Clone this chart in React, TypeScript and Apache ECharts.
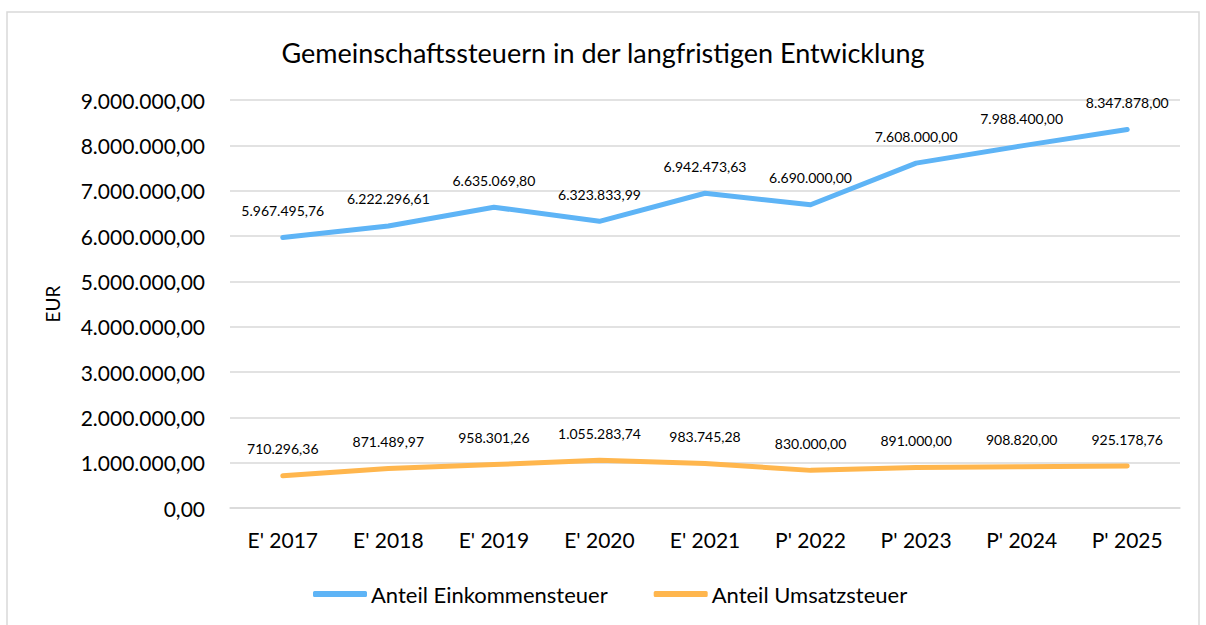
import React, { useEffect, useRef } from "react";
import * as echarts from "echarts";

const categories = ["E' 2017", "E' 2018", "E' 2019", "E' 2020", "E' 2021", "P' 2022", "P' 2023", "P' 2024", "P' 2025"];
const einkommen = [5967495.76, 6222296.61, 6635069.8, 6323833.99, 6942473.63, 6690000.0, 7608000.0, 7988400.0, 8347878.0];
const umsatz = [710296.36, 871489.97, 958301.26, 1055283.74, 983745.28, 830000.0, 891000.0, 908820.0, 925178.76];
const seriesNames = ["Anteil Einkommensteuer", "Anteil Umsatzsteuer"];
const titleText = "Gemeinschaftssteuern in der langfristigen Entwicklung";
const yAxisName = "EUR";

function de(v: number): string {
  const fixed = v.toFixed(2);
  const [i, d] = fixed.split(".");
  return i.replace(/\B(?=(\d{3})+(?!\d))/g, ".") + "," + d;
}

const FONT = "Lato";
const BLUE = "#5EB4F6";
const ORANGE = "#FFB64D";

export default function App() {
  const ref = useRef<HTMLDivElement>(null);
  useEffect(() => {
    if (!ref.current) return;
    const chart = echarts.init(ref.current, null, { renderer: "svg" });
    const labelCfg = {
      show: true,
      position: "top",
      distance: 20,
      fontFamily: FONT,
      fontSize: 14,
      color: "#000",
      formatter: (p: any) => de(p.value),
    };
    chart.setOption({
      animation: false,
      backgroundColor: "#fff",
      textStyle: { fontFamily: FONT },
      graphic: [
        {
          type: "rect",
          shape: { x: 7, y: 12, width: 1192, height: 640 },
          style: { fill: "none", stroke: "#d9d9d9", lineWidth: 1.5 },
          silent: true,
        },
      ],
      title: {
        text: titleText,
        left: "center",
        top: 34,
        textStyle: { fontFamily: FONT, fontSize: 27, fontWeight: "normal", color: "#000" },
      },
      legend: {
        left: 308,
        top: 578,
        itemWidth: 54,
        itemHeight: 6,
        itemGap: 46,
        icon: "roundRect",
        textStyle: { fontFamily: FONT, fontSize: 22, color: "#000", padding: [0, 0, 0, -1] },
        data: [
          { name: seriesNames[0], itemStyle: { color: BLUE } },
          { name: seriesNames[1], itemStyle: { color: ORANGE } },
        ],
      },
      grid: { left: 230, right: 26, top: 100, bottom: 117, containLabel: false },
      xAxis: {
        type: "category",
        data: categories,
        boundaryGap: true,
        axisLine: { show: true, lineStyle: { color: "#d9d9d9", width: 1.5 } },
        axisTick: { show: false },
        axisLabel: { fontFamily: FONT, fontSize: 21, color: "#000", margin: 21 },
      },
      yAxis: {
        type: "value",
        min: 0,
        max: 9000000,
        interval: 1000000,
        name: yAxisName,
        nameLocation: "middle",
        nameRotate: 90,
        nameGap: 168,
        nameTextStyle: { fontFamily: FONT, fontSize: 19, color: "#000" },
        axisLine: { show: false },
        axisTick: { show: false },
        axisLabel: { fontFamily: FONT, fontSize: 21, color: "#000", margin: 25, formatter: (v: number) => de(v) },
        splitLine: { lineStyle: { color: "#d9d9d9", width: 1.5 } },
      },
      series: [
        {
          name: seriesNames[0],
          type: "line",
          data: einkommen,
          symbol: "circle",
          symbolSize: 0.01,
          showSymbol: true,
          itemStyle: { color: BLUE },
          color: BLUE,
          lineStyle: { width: 5, color: BLUE, cap: "round", join: "round" },
          label: labelCfg,
        },
        {
          name: seriesNames[1],
          type: "line",
          data: umsatz,
          symbol: "circle",
          symbolSize: 0.01,
          showSymbol: true,
          itemStyle: { color: ORANGE },
          color: ORANGE,
          lineStyle: { width: 5, color: ORANGE, cap: "round", join: "round" },
          label: labelCfg,
        },
      ],
    });
    return () => chart.dispose();
  }, []);
  return (
    <div
      ref={ref}
      style={{ position: "absolute", left: 0, top: 0, width: 1206, height: 625 }}
    />
  );
}
